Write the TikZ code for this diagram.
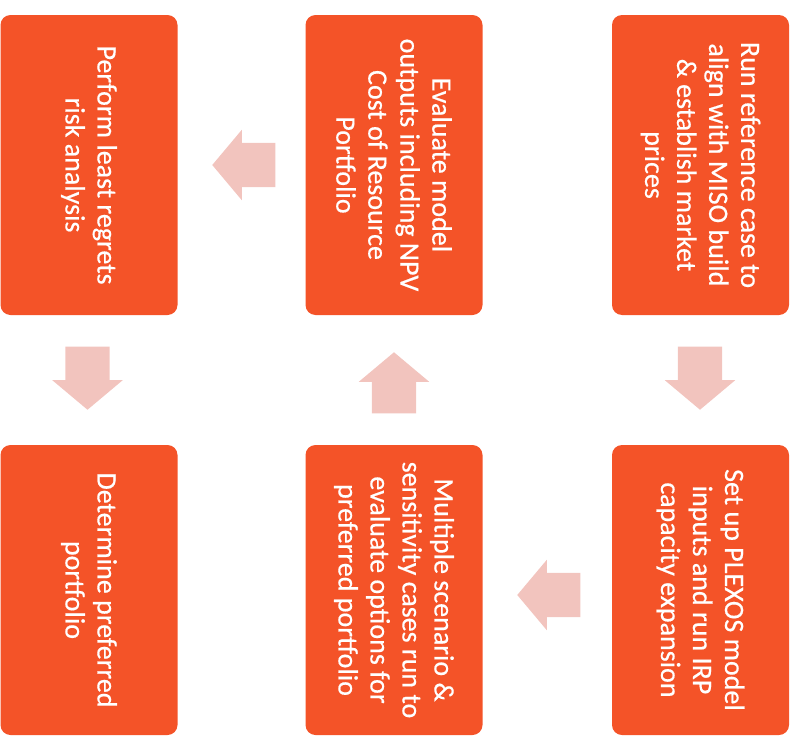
\documentclass[tikz,border=0pt]{standalone}
\usepackage{fontspec}
\setmainfont{Carlito}
\newfontfamily\boxfont[FakeBold=0.5]{Carlito}
\usetikzlibrary{shapes.arrows}
\definecolor{boxorange}{RGB}{244,83,40}
\definecolor{arrowpink}{RGB}{242,196,190}
\begin{document}
\begin{tikzpicture}[x=1pt,y=-1pt,
  stepbox/.style={draw=none, fill=boxorange, rounded corners=10pt, rotate=-90,
    text=white, align=center, font=\boxfont\fontsize{28}{32}\selectfont, inner sep=0pt,
    minimum height=177pt},
  toprow/.style={minimum width=300pt},
  botrow/.style={minimum width=290pt},
  blockarrow/.style={single arrow, fill=arrowpink, draw=none, minimum height=63pt,
    single arrow head extend=13pt, single arrow tip angle=100,
    inner xsep=0pt, inner ysep=22pt, anchor=tip}]
\useasboundingbox (0,0) rectangle (796,736);
% boxes
\node[stepbox, toprow] (b1) at (89,165) {Perform least regrets\\risk analysis};
\node[stepbox, toprow] (b2) at (394,165) {Evaluate model\\outputs including NPV\\Cost of Resource\\Portfolio};
\node[stepbox, toprow] (b3) at (700.5,165) {Run reference case to\\align with MISO build\\\& establish market\\prices};
\node[stepbox, botrow] (b4) at (89,590) {Determine preferred\\portfolio};
\node[stepbox, botrow] (b5) at (394,590) {Multiple scenario \&\\sensitivity cases run to\\evaluate options for\\preferred portfolio};
\node[stepbox, botrow] (b6) at (700.5,590) {Set up PLEXOS model\\inputs and run IRP\\capacity expansion};
% arrows (tip positions)
\node[blockarrow, rotate=180] (a1) at (212,165) {};
\node[blockarrow, rotate=-90] (a2) at (700,410) {};
\node[blockarrow, rotate=180] (a3) at (517,595) {};
\node[blockarrow, rotate=90, minimum height=61pt] (a4) at (394,352) {};
\node[blockarrow, rotate=-90] (a5) at (87.5,410) {};
\end{tikzpicture}
\end{document}
